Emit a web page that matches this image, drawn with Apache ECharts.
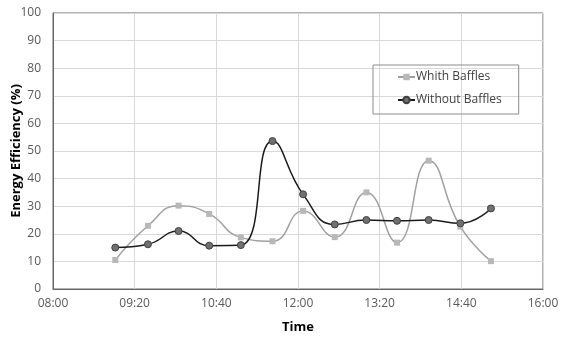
<!DOCTYPE html>
<html>
<head>
<meta charset="utf-8">
<script src="https://cdn.jsdelivr.net/npm/echarts@6/dist/echarts.min.js"></script>
<style>
html,body{margin:0;padding:0;background:#fff;}
#chart_show{width:573px;height:342px;}
</style>
</head>
<body>
<div id="chart_show"></div>
<script>
// sample times (HH:MM)
var aTimes = ['09:01','09:33','10:03','10:33','11:04','11:35','12:05','12:36','13:07','13:37','14:08','14:39','15:09'];
var aWith = [10.5, 22.9, 30.2, 27.2, 18.7, 17.3, 28.3, 18.8, 35.0, 16.8, 46.5, 22.6, 10.1];
var aWithout = [15.0, 16.2, 21.0, 15.7, 15.9, 53.6, 34.3, 23.4, 25.0, 24.7, 25.0, 23.8, 29.2];
var aSeriesNames = ['Whith Baffles', 'Without Baffles'];

function toMin(s){
    var p = s.split(':');
    return parseInt(p[0]) * 60 + parseInt(p[1]);
}
function toHHMM(v){
    var h = Math.floor(v / 60), m = Math.round(v % 60);
    return (h < 10 ? '0' : '') + h + ':' + (m < 10 ? '0' : '') + m;
}

var aWithData = [], aWithoutData = [];
for (var i = 0; i < aTimes.length; i++) {
    aWithData.push([toMin(aTimes[i]), aWith[i]]);
    aWithoutData.push([toMin(aTimes[i]), aWithout[i]]);
}

var sFont = '"Open Sans", "Liberation Sans", sans-serif';
var oChart = echarts.init(document.getElementById('chart_show'));
var oOpt = {
    animation: false,
    textStyle: {fontFamily: sFont},
    legend: {
        data: aSeriesNames,
        orient: 'vertical',
        left: 373,
        top: 65,
        borderColor: '#8c8c8c',
        borderWidth: 1,
        padding: [6, 17, 8, 24],
        itemGap: 11,
        itemWidth: 17,
        itemHeight: 8,
        textStyle: {fontFamily: sFont, fontSize: 12, color: '#404040', padding: [0, 0, 0, -4]}
    },
    grid: {
        show: true,
        left: 53,
        right: 30,
        top: 13,
        bottom: 53,
        outerBoundsMode: 'none',
        containLabel: false,
        borderColor: '#666',
        borderWidth: 1
    },
    xAxis: {
        type: 'value',
        min: 480,
        max: 960,
        interval: 80,
        name: 'Time',
        nameLocation: 'middle',
        nameGap: 32,
        nameTextStyle: {fontFamily: sFont, fontSize: 13, fontWeight: 'bold', color: '#000'},
        axisLine: {show: true, lineStyle: {color: '#666'}},
        axisTick: {show: false},
        axisLabel: {color: '#595959', fontSize: 12, margin: 9, formatter: function (v) { return toHHMM(v); }},
        splitLine: {show: true, lineStyle: {color: '#d9d9d9'}}
    },
    yAxis: {
        type: 'value',
        min: 0,
        max: 100,
        interval: 10,
        name: 'Energy Efficiency (%)',
        nameLocation: 'middle',
        nameMoveOverlap: false,
        nameGap: 30,
        nameTextStyle: {fontFamily: sFont, fontSize: 13, fontWeight: 'bold', color: '#000'},
        axisLine: {show: true, lineStyle: {color: '#666'}},
        axisTick: {show: false},
        axisLabel: {color: '#595959', fontSize: 12, margin: 12},
        splitLine: {show: true, lineStyle: {color: '#d9d9d9'}}
    },
    series: [
        {
            name: aSeriesNames[0],
            type: 'line',
            smooth: 0.5,
            data: aWithData,
            symbol: 'rect',
            symbolSize: 6,
            showAllSymbol: true,
            lineStyle: {color: '#a0a0a0', width: 1.5},
            itemStyle: {color: '#b8b8b8', borderColor: '#b8b8b8', borderWidth: 0},
            z: 2
        },
        {
            name: aSeriesNames[1],
            type: 'line',
            smooth: 0.5,
            data: aWithoutData,
            symbol: 'circle',
            symbolSize: 7,
            showAllSymbol: true,
            lineStyle: {color: '#1a1a1a', width: 1.5},
            itemStyle: {color: '#707070', borderColor: '#404040', borderWidth: 1},
            z: 3
        }
    ]
};
oChart.setOption(oOpt);
</script>
</body>
</html>
